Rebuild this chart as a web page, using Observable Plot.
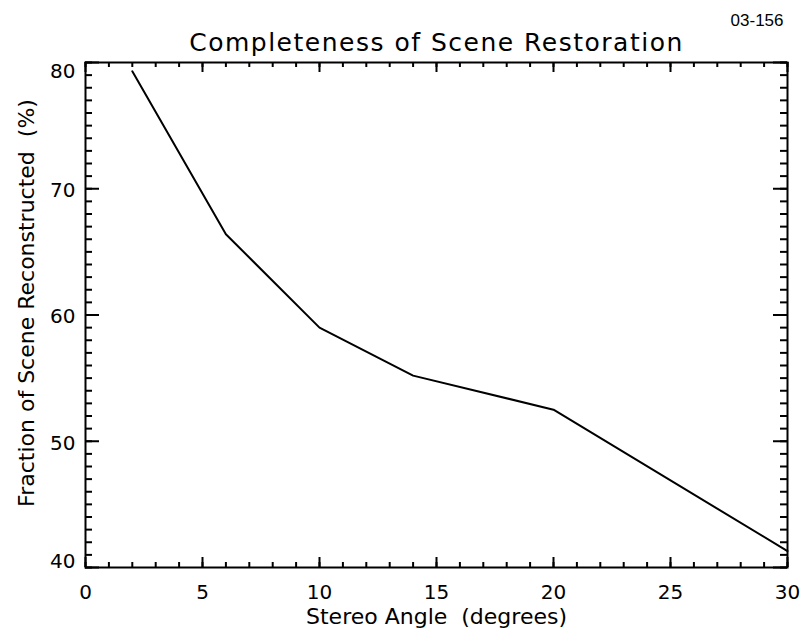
<!DOCTYPE html>
<html>
<head>
<meta charset="utf-8">
<script src="https://cdn.jsdelivr.net/npm/d3@7"></script>
<script src="https://cdn.jsdelivr.net/npm/@observablehq/plot@0.6"></script>
<style>
  html, body { margin: 0; padding: 0; background: #fff; }
</style>
</head>
<body>
<div id="chart"></div>
<script>
// Data
const stereoAngle = [2, 6, 10, 14, 20, 30];
const fractionReconstructed = [79.3, 66.4, 59.0, 55.2, 52.5, 41.3];

// Tick labels
const xTickValues = [0, 5, 10, 15, 20, 25, 30];
const yTickValues = [40, 50, 60, 70, 80];
const xMinorValues = d3.range(0, 31, 1);
const yMinorValues = d3.range(40, 81, 1);

const titleText = "Completeness of Scene Restoration";
const xLabelText = "Stereo Angle  (degrees)";
const yLabelText = "Fraction of Scene Reconstructed  (%)";
const idText = "03-156";

const W = 802, H = 635;
const mTop = 62, mBottom = 68, mLeft = 85, mRight = 15;
const plotW = W - mLeft - mRight;
const plotH = H - mTop - mBottom;

const rows = stereoAngle.map((a, i) => ({angle: a, fraction: fractionReconstructed[i]}));
const ink = "#000";
const numFont = "DejaVu Sans";

const chart = Plot.plot({
  width: W,
  height: H,
  marginTop: mTop,
  marginBottom: mBottom,
  marginLeft: mLeft,
  marginRight: mRight,
  style: {fontFamily: "DejaVu Sans", background: "#fff", color: ink},
  x: {domain: [0, 30], axis: null},
  y: {domain: [40, 80], axis: null},
  marks: [
    // minor ticks (inward, all four sides)
    Plot.ruleX(xMinorValues, {x: d => d, insetTop: plotH - 5, stroke: ink, strokeWidth: 2}),
    Plot.ruleX(xMinorValues, {x: d => d, insetBottom: plotH - 5, stroke: ink, strokeWidth: 2}),
    Plot.ruleY(yMinorValues, {y: d => d, insetRight: plotW - 7, stroke: ink, strokeWidth: 2}),
    Plot.ruleY(yMinorValues, {y: d => d, insetLeft: plotW - 7, stroke: ink, strokeWidth: 2}),
    // major ticks
    Plot.ruleX(xTickValues, {x: d => d, insetTop: plotH - 10, stroke: ink, strokeWidth: 2}),
    Plot.ruleX(xTickValues, {x: d => d, insetBottom: plotH - 10, stroke: ink, strokeWidth: 2}),
    Plot.ruleY(yTickValues, {y: d => d, insetRight: plotW - 14, stroke: ink, strokeWidth: 2}),
    Plot.ruleY(yTickValues, {y: d => d, insetLeft: plotW - 14, stroke: ink, strokeWidth: 2}),
    Plot.frame({stroke: ink, strokeWidth: 2}),
    // tick labels
    Plot.text(xTickValues, {x: d => d, text: d => String(d), frameAnchor: "bottom", lineAnchor: "middle", dy: 25,
      fontSize: 20, fontFamily: numFont, fill: ink}),
    Plot.text(yTickValues.filter(v => v > 40 && v < 80), {y: d => d, text: d => String(d), frameAnchor: "left",
      textAnchor: "end", lineAnchor: "middle", dx: -10, dy: 2, fontSize: 20, fontFamily: numFont, fill: ink}),
    Plot.text(yTickValues.filter(v => v === 80), {y: d => d, text: d => String(d), frameAnchor: "left",
      textAnchor: "end", lineAnchor: "middle", dx: -10, dy: 9, fontSize: 20, fontFamily: numFont, fill: ink}),
    Plot.text(yTickValues.filter(v => v === 40), {y: d => d, text: d => String(d), frameAnchor: "left",
      textAnchor: "end", lineAnchor: "middle", dx: -10, dy: -6, fontSize: 20, fontFamily: numFont, fill: ink}),
    // data line
    Plot.line(rows, {x: "angle", y: "fraction", stroke: ink, strokeWidth: 2, strokeLinejoin: "round"}),
    // axis labels and titles
    Plot.text([xLabelText], {text: d => d, frameAnchor: "bottom", lineAnchor: "middle", dy: 49, fontSize: 22, fill: ink}),
    Plot.text([yLabelText], {text: d => d, frameAnchor: "left", textAnchor: "middle", lineAnchor: "middle",
      dx: -59, dy: -12, rotate: -90, fontSize: 22, fill: ink}),
    Plot.text([titleText], {text: d => d, frameAnchor: "top", lineAnchor: "middle", dy: -20, fontSize: 25, fill: ink}),
    Plot.text([idText], {text: d => d, frameAnchor: "top-right", textAnchor: "end", lineAnchor: "middle",
      dx: -4, dy: -42, fontSize: 17, fontFamily: "Liberation Sans", fill: ink})
  ]
});
// widen the title letter spacing to match the reference's stroke font
d3.select(chart).selectAll("text").filter(function() { return this.textContent === titleText; })
  .style("letter-spacing", "1.5px");
document.getElementById("chart").appendChild(chart);
</script>
</body>
</html>
